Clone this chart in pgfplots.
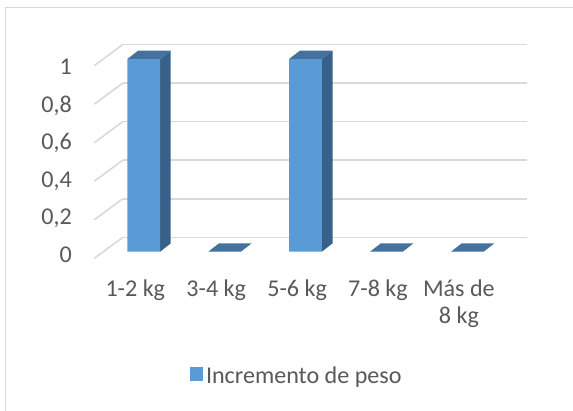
\documentclass[border=0pt]{standalone}
\usepackage{pgfplots}
\pgfplotsset{compat=1.18}
\usepackage{pgfplotstable}
\usepackage{fontspec}
\setmainfont{Carlito}
\definecolor{barfront}{RGB}{91,155,213}
\definecolor{barside}{RGB}{56,97,137}
\definecolor{bartop}{RGB}{67,114,158}
\definecolor{gridc}{RGB}{217,217,217}
\definecolor{txt}{RGB}{89,89,89}
\newcommand\lab{\fontsize{24.1}{26.7}\selectfont}
\pgfplotstableread{
x y
0 1
1 0
2 1
3 0
4 0
}\datatab
\begin{document}
\begin{tikzpicture}
\begin{axis}[
  width=573pt, height=410pt, scale only axis,
  xmin=-1.7763, xmax=5.3066, ymin=-0.8215, ymax=1.3062,
  axis line style={draw=none},
  major tick length=0pt, tick style={draw=none},
  xtick={0,1,2,3,4},
  xticklabels={1-2 kg,3-4 kg,5-6 kg,7-8 kg,{\begin{tabular}[t]{@{}c@{}}Más de\\8 kg\end{tabular}}},
  xticklabel style={anchor=base, inner sep=0pt, yshift=113.3pt, xshift=-8.4pt, font=\lab, text=txt},
  ytick={-0.0171,0.1780,0.3731,0.5682,0.7634,0.9585},
  yticklabels={0,{0,2},{0,4},{0,6},{0,8},1},
  yticklabel style={anchor=base east, inner sep=0pt, xshift=72pt, yshift=-7.5pt, font=\lab, text=txt},
  legend style={draw=none, fill=none, inner sep=0pt, outer sep=0pt,
    at={(axis cs:0.5723,-0.6423)}, anchor=west, font=\lab, text=txt,
    nodes={inner sep=0pt}},
  legend cell align=left,
]
\coordinate (bbsw) at (rel axis cs:0,0);
\coordinate (bbne) at (rel axis cs:1,1);
% outer border
\draw[gridc, line width=1.3pt] (axis cs:-1.7108,-0.8733) -- (axis cs:-1.7108,1.2683) -- (axis cs:5.393,1.2683);
% back gridlines
\addplot[gridc, line width=1.6pt, forget plot] coordinates {(-0.259,0.0747) (4.741,0.0747)};
\addplot[gridc, line width=1.6pt, forget plot] coordinates {(-0.259,0.2747) (4.741,0.2747)};
\addplot[gridc, line width=1.6pt, forget plot] coordinates {(-0.259,0.4747) (4.741,0.4747)};
\addplot[gridc, line width=1.6pt, forget plot] coordinates {(-0.259,0.6747) (4.741,0.6747)};
\addplot[gridc, line width=1.6pt, forget plot] coordinates {(-0.259,0.8747) (4.741,0.8747)};
\addplot[gridc, line width=1.6pt, forget plot] coordinates {(-0.259,1.0747) (4.741,1.0747)};
% side (floor) diagonals
\addplot[gridc, line width=1.6pt, forget plot] coordinates {(-0.610,-0.0342) (-0.259,0.0747)};
\addplot[gridc, line width=1.6pt, forget plot] coordinates {(-0.610,0.1658) (-0.259,0.2747)};
\addplot[gridc, line width=1.6pt, forget plot] coordinates {(-0.610,0.3658) (-0.259,0.4747)};
\addplot[gridc, line width=1.6pt, forget plot] coordinates {(-0.610,0.5658) (-0.259,0.6747)};
\addplot[gridc, line width=1.6pt, forget plot] coordinates {(-0.610,0.7658) (-0.259,0.8747)};
\addplot[gridc, line width=1.6pt, forget plot] coordinates {(-0.610,0.9658) (-0.259,1.0747)};
% side faces
\addplot[fill=barside, draw=none, forget plot] coordinates {(0.202,0) (0.334,0.0431) (0.334,1.0431) (0.202,1)} -- cycle;
\addplot[fill=barside, draw=none, forget plot] coordinates {(2.202,0) (2.334,0.0431) (2.334,1.0431) (2.202,1)} -- cycle;
% top faces
\addplot[fill=bartop, draw=none, forget plot] coordinates {(-0.202,1) (0.202,1) (0.334,1.0431) (-0.070,1.0431)} -- cycle;
\addplot[fill=bartop, draw=none, forget plot] coordinates {(0.798,0) (1.202,0) (1.334,0.0431) (0.930,0.0431)} -- cycle;
\addplot[fill=bartop, draw=none, forget plot] coordinates {(1.798,1) (2.202,1) (2.334,1.0431) (1.930,1.0431)} -- cycle;
\addplot[fill=bartop, draw=none, forget plot] coordinates {(2.798,0) (3.202,0) (3.334,0.0431) (2.930,0.0431)} -- cycle;
\addplot[fill=bartop, draw=none, forget plot] coordinates {(3.798,0) (4.202,0) (4.334,0.0431) (3.930,0.0431)} -- cycle;
% front faces
\addplot[ybar, bar width=0.404, fill=barfront, draw=none,
  legend image code/.code={\fill[barfront] (0pt,-5.5pt) rectangle (13pt,8.5pt); \path (16pt,0pt);}]
  table[x=x,y=y] {\datatab};
\addlegendentry{Incremento de peso}
\end{axis}
\pgfresetboundingbox
\useasboundingbox (bbsw) rectangle (bbne);
\end{tikzpicture}
\end{document}
